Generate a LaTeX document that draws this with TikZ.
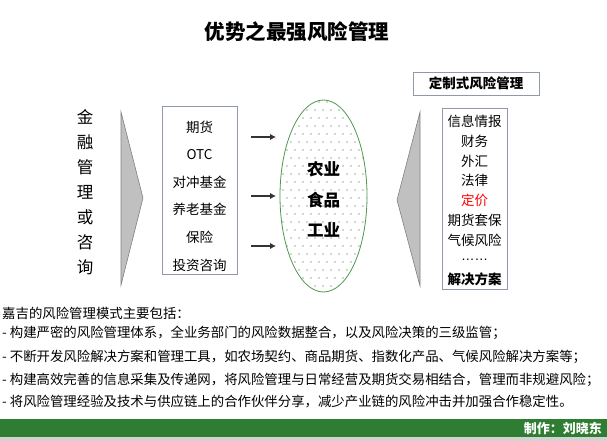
\documentclass[tikz,border=0pt]{standalone}
\usepackage{fontspec}
\setmainfont{Noto Sans CJK SC}
\newfontfamily\latinfont{Liberation Sans}
\usetikzlibrary{shapes.geometric,arrows.meta}
\definecolor{boxgray}{RGB}{143,153,170}
\definecolor{trigray}{RGB}{192,192,192}
\definecolor{bargreen}{RGB}{47,125,50}
\definecolor{ellgreen}{RGB}{80,150,80}
\definecolor{dotgreen}{RGB}{45,85,45}
\tikzset{
  item/.style={font=\fontsize{13.5}{13.5}\selectfont,inner sep=0pt},
  line/.style={font=\fontsize{13.4}{13.4}\selectfont,inner sep=0pt,anchor=west},
  big/.style={font=\fontsize{16.5}{16.5}\selectfont\bfseries,inner sep=0pt},
  frame/.style={draw=boxgray,line width=0.8pt,inner sep=0pt},
  wedge/.style={fill=trigray,draw=gray,line width=0.6pt},
  push/.style={-{Latex[length=6pt,width=6.5pt]},line width=1.8pt,color=black!80}
}
\begin{document}
\begin{tikzpicture}[x=1pt,y=-1pt]
\useasboundingbox (0,0) rectangle (607,441);
\node[font=\fontsize{20.5}{20.5}\selectfont\bfseries] (title) at (297,32) {优势之最强风险管理};
% left side
\foreach \c [count=\i] in {金,融,管,理,或,咨,询}
  \node[font=\fontsize{16.5}{16.5}\selectfont,inner sep=0pt] (v\i) at (85,92+25*\i) {\c};
\draw[wedge] (121,112) -- (143,198) -- (121,285) -- cycle;
\node[frame,minimum width=75,minimum height=168] (fin) at (199.5,190) {};
\foreach \t [count=\i] in {期货,OTC,对冲基金,养老基金,保险,投资咨询}
  \node[item] (f\i) at (199.5,99.4+27.6*\i) {\t};
% arrows
\foreach \y [count=\i] in {137,196,246} {
  \coordinate (a\i) at (251,\y);
  \coordinate (b\i) at (276,\y);
  \draw[push] (a\i) -- (b\i);
}
% dotted ellipse
\begin{scope}
  \clip (323.5,196) ellipse [x radius=43.5, y radius=96];
  \foreach \r in {0,...,24}
    \foreach \c in {0,...,11}
      \fill[dotgreen] ({279+8*\c+4*mod(\r,2)},{102+8*\r}) circle[radius=0.55];
\end{scope}
\node[ellipse,draw=ellgreen,line width=0.8pt,minimum width=87,minimum height=192,inner sep=0pt] (ind) at (323.5,196) {};
\node[big] (n1) at (323.5,169) {农业};
\node[big] (n2) at (323.5,200) {食品};
\node[big] (n3) at (323.5,230) {工业};
% right side
\draw[wedge] (420,112) -- (397,200) -- (420,286) -- cycle;
\node[frame,minimum width=126,minimum height=23,font=\fontsize{13.5}{13.5}\selectfont\bfseries] (cust) at (476,83.5) {定制式风险管理};
\node[frame,minimum width=65,minimum height=181] (sol) at (474.5,198.5) {};
\foreach \t [count=\i] in {信息情报,财务,外汇,法律,{\color{red}定价},期货套保,气候风险,{\latinfont ……},{\bfseries 解决方案}}
  \node[item] (s\i) at (474.5,102+19.7*\i) {\t};
% text below
\foreach \t/\y [count=\i] in {嘉吉的风险管理模式主要包括：/313,
  - 构建严密的风险管理体系，全业务部门的风险数据整合，以及风险决策的三级监管；/333,
  - 不断开发风险解决方案和管理工具，如农场契约、商品期货、指数化产品、气候风险解决方案等；/357,
  - 构建高效完善的信息采集及传递网，将风险管理与日常经营及期货交易相结合，管理而非规避风险；/380,
  - 将风险管理经验及技术与供应链上的合作伙伴分享，减少产业链的风险冲击并加强合作稳定性。/402}
  \node[line] (l\i) at (2,\y) {\t};
\fill[bargreen] (0,419) rectangle (607,437);
\fill[gray!35] (0,437) rectangle (607,441);
\node[item,anchor=east,text=white,font=\fontsize{13}{13}\selectfont\bfseries] (author) at (602,428) {制作：刘晓东};
\end{tikzpicture}
\end{document}
